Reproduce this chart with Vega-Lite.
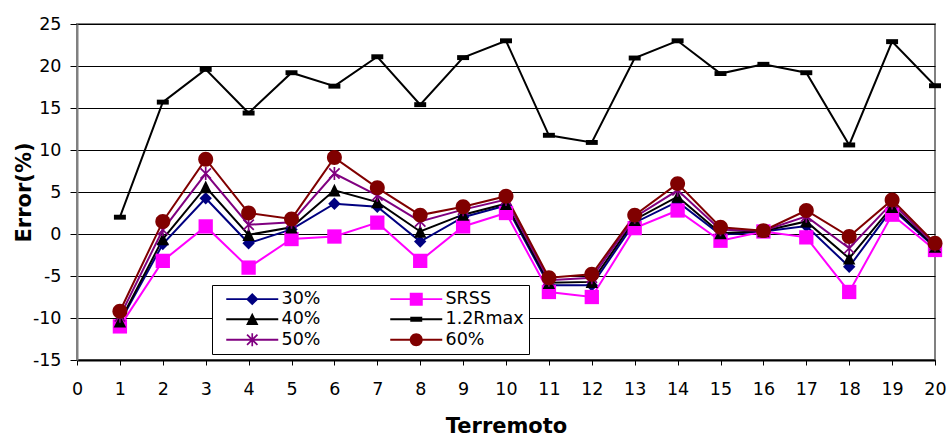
{
  "$schema": "https://vega.github.io/schema/vega-lite/v6.json",
  "width": 858,
  "height": 336,
  "autosize": {"type": "none"},
  "padding": {"left": 77, "top": 24, "right": 14, "bottom": 82},
  "background": "white",
  "config": {
    "font": "DejaVu Sans",
    "view": {"stroke": "#808080", "strokeWidth": 2},
    "axis": {"labelColor": "#000", "titleColor": "#000", "tickColor": "#000", "labelFont": "DejaVu Sans", "titleFont": "DejaVu Sans"},
    "point": {"filled": true, "opacity": 1, "size": 169, "strokeWidth": 0}
  },
  "data": {
    "values": [
      {"terremoto": 1, "serie": "30%", "error": -10.5},
      {"terremoto": 2, "serie": "30%", "error": -1.2},
      {"terremoto": 3, "serie": "30%", "error": 4.25},
      {"terremoto": 4, "serie": "30%", "error": -1.1},
      {"terremoto": 5, "serie": "30%", "error": 0.55},
      {"terremoto": 6, "serie": "30%", "error": 3.6},
      {"terremoto": 7, "serie": "30%", "error": 3.25},
      {"terremoto": 8, "serie": "30%", "error": -0.9},
      {"terremoto": 9, "serie": "30%", "error": 2.0},
      {"terremoto": 10, "serie": "30%", "error": 3.4},
      {"terremoto": 11, "serie": "30%", "error": -6.1},
      {"terremoto": 12, "serie": "30%", "error": -6.1},
      {"terremoto": 13, "serie": "30%", "error": 1.35},
      {"terremoto": 14, "serie": "30%", "error": 3.85},
      {"terremoto": 15, "serie": "30%", "error": -0.1},
      {"terremoto": 16, "serie": "30%", "error": 0.3},
      {"terremoto": 17, "serie": "30%", "error": 0.95},
      {"terremoto": 18, "serie": "30%", "error": -3.9},
      {"terremoto": 19, "serie": "30%", "error": 3.0},
      {"terremoto": 20, "serie": "30%", "error": -1.6},

      {"terremoto": 1, "serie": "SRSS", "error": -11.0},
      {"terremoto": 2, "serie": "SRSS", "error": -3.2},
      {"terremoto": 3, "serie": "SRSS", "error": 0.9},
      {"terremoto": 4, "serie": "SRSS", "error": -4.0},
      {"terremoto": 5, "serie": "SRSS", "error": -0.6},
      {"terremoto": 6, "serie": "SRSS", "error": -0.3},
      {"terremoto": 7, "serie": "SRSS", "error": 1.35},
      {"terremoto": 8, "serie": "SRSS", "error": -3.2},
      {"terremoto": 9, "serie": "SRSS", "error": 0.9},
      {"terremoto": 10, "serie": "SRSS", "error": 2.5},
      {"terremoto": 11, "serie": "SRSS", "error": -6.9},
      {"terremoto": 12, "serie": "SRSS", "error": -7.5},
      {"terremoto": 13, "serie": "SRSS", "error": 0.7},
      {"terremoto": 14, "serie": "SRSS", "error": 2.8},
      {"terremoto": 15, "serie": "SRSS", "error": -0.8},
      {"terremoto": 16, "serie": "SRSS", "error": 0.3},
      {"terremoto": 17, "serie": "SRSS", "error": -0.4},
      {"terremoto": 18, "serie": "SRSS", "error": -6.9},
      {"terremoto": 19, "serie": "SRSS", "error": 2.3},
      {"terremoto": 20, "serie": "SRSS", "error": -1.9},

      {"terremoto": 1, "serie": "40%", "error": -10.4},
      {"terremoto": 2, "serie": "40%", "error": -0.6},
      {"terremoto": 3, "serie": "40%", "error": 5.6},
      {"terremoto": 4, "serie": "40%", "error": -0.1},
      {"terremoto": 5, "serie": "40%", "error": 0.8},
      {"terremoto": 6, "serie": "40%", "error": 5.2},
      {"terremoto": 7, "serie": "40%", "error": 3.8},
      {"terremoto": 8, "serie": "40%", "error": 0.3},
      {"terremoto": 9, "serie": "40%", "error": 2.3},
      {"terremoto": 10, "serie": "40%", "error": 3.6},
      {"terremoto": 11, "serie": "40%", "error": -5.8},
      {"terremoto": 12, "serie": "40%", "error": -5.7},
      {"terremoto": 13, "serie": "40%", "error": 1.7},
      {"terremoto": 14, "serie": "40%", "error": 4.45},
      {"terremoto": 15, "serie": "40%", "error": 0.1},
      {"terremoto": 16, "serie": "40%", "error": 0.35},
      {"terremoto": 17, "serie": "40%", "error": 1.5},
      {"terremoto": 18, "serie": "40%", "error": -2.9},
      {"terremoto": 19, "serie": "40%", "error": 3.25},
      {"terremoto": 20, "serie": "40%", "error": -1.5},

      {"terremoto": 1, "serie": "1.2Rmax", "error": 2.0},
      {"terremoto": 2, "serie": "1.2Rmax", "error": 15.7},
      {"terremoto": 3, "serie": "1.2Rmax", "error": 19.6},
      {"terremoto": 4, "serie": "1.2Rmax", "error": 14.4},
      {"terremoto": 5, "serie": "1.2Rmax", "error": 19.2},
      {"terremoto": 6, "serie": "1.2Rmax", "error": 17.6},
      {"terremoto": 7, "serie": "1.2Rmax", "error": 21.1},
      {"terremoto": 8, "serie": "1.2Rmax", "error": 15.4},
      {"terremoto": 9, "serie": "1.2Rmax", "error": 21.0},
      {"terremoto": 10, "serie": "1.2Rmax", "error": 23.0},
      {"terremoto": 11, "serie": "1.2Rmax", "error": 11.75},
      {"terremoto": 12, "serie": "1.2Rmax", "error": 10.9},
      {"terremoto": 13, "serie": "1.2Rmax", "error": 20.95},
      {"terremoto": 14, "serie": "1.2Rmax", "error": 23.0},
      {"terremoto": 15, "serie": "1.2Rmax", "error": 19.1},
      {"terremoto": 16, "serie": "1.2Rmax", "error": 20.2},
      {"terremoto": 17, "serie": "1.2Rmax", "error": 19.2},
      {"terremoto": 18, "serie": "1.2Rmax", "error": 10.6},
      {"terremoto": 19, "serie": "1.2Rmax", "error": 22.9},
      {"terremoto": 20, "serie": "1.2Rmax", "error": 17.65},

      {"terremoto": 1, "serie": "50%", "error": -9.8},
      {"terremoto": 2, "serie": "50%", "error": 0.5},
      {"terremoto": 3, "serie": "50%", "error": 7.2},
      {"terremoto": 4, "serie": "50%", "error": 1.1},
      {"terremoto": 5, "serie": "50%", "error": 1.4},
      {"terremoto": 6, "serie": "50%", "error": 7.2},
      {"terremoto": 7, "serie": "50%", "error": 4.6},
      {"terremoto": 8, "serie": "50%", "error": 1.5},
      {"terremoto": 9, "serie": "50%", "error": 2.9},
      {"terremoto": 10, "serie": "50%", "error": 4.1},
      {"terremoto": 11, "serie": "50%", "error": -5.5},
      {"terremoto": 12, "serie": "50%", "error": -5.2},
      {"terremoto": 13, "serie": "50%", "error": 2.0},
      {"terremoto": 14, "serie": "50%", "error": 5.2},
      {"terremoto": 15, "serie": "50%", "error": 0.5},
      {"terremoto": 16, "serie": "50%", "error": 0.4},
      {"terremoto": 17, "serie": "50%", "error": 2.1},
      {"terremoto": 18, "serie": "50%", "error": -1.7},
      {"terremoto": 19, "serie": "50%", "error": 3.7},
      {"terremoto": 20, "serie": "50%", "error": -1.3},

      {"terremoto": 1, "serie": "60%", "error": -9.2},
      {"terremoto": 2, "serie": "60%", "error": 1.5},
      {"terremoto": 3, "serie": "60%", "error": 8.9},
      {"terremoto": 4, "serie": "60%", "error": 2.5},
      {"terremoto": 5, "serie": "60%", "error": 1.8},
      {"terremoto": 6, "serie": "60%", "error": 9.1},
      {"terremoto": 7, "serie": "60%", "error": 5.5},
      {"terremoto": 8, "serie": "60%", "error": 2.25},
      {"terremoto": 9, "serie": "60%", "error": 3.25},
      {"terremoto": 10, "serie": "60%", "error": 4.5},
      {"terremoto": 11, "serie": "60%", "error": -5.2},
      {"terremoto": 12, "serie": "60%", "error": -4.8},
      {"terremoto": 13, "serie": "60%", "error": 2.25},
      {"terremoto": 14, "serie": "60%", "error": 6.0},
      {"terremoto": 15, "serie": "60%", "error": 0.8},
      {"terremoto": 16, "serie": "60%", "error": 0.4},
      {"terremoto": 17, "serie": "60%", "error": 2.8},
      {"terremoto": 18, "serie": "60%", "error": -0.3},
      {"terremoto": 19, "serie": "60%", "error": 4.05},
      {"terremoto": 20, "serie": "60%", "error": -1.1}
    ]
  },
  "encoding": {
    "x": {
      "field": "terremoto",
      "type": "quantitative",
      "scale": {"domain": [0, 20], "nice": false, "zero": false},
      "axis": {
        "values": [0, 1, 2, 3, 4, 5, 6, 7, 8, 9, 10, 11, 12, 13, 14, 15, 16, 17, 18, 19, 20],
        "grid": false,
        "tickSize": 5,
        "domainColor": "#000",
        "domainWidth": 2,
        "labelFontSize": 17.5,
        "labelPadding": 15,
        "labelFlush": false,
        "title": "Terremoto",
        "titleFontSize": 21,
        "titleFontWeight": "bold",
        "titlePadding": 18
      }
    },
    "y": {
      "field": "error",
      "type": "quantitative",
      "scale": {"domain": [-15, 25], "nice": false, "zero": false},
      "axis": {
        "values": [-15, -10, -5, 0, 5, 10, 15, 20, 25],
        "labelExpr": "'' + datum.value",
        "grid": true,
        "gridColor": "#000",
        "gridWidth": 1,
        "tickSize": 7,
        "domainColor": "#808080",
        "domainWidth": 2,
        "labelFontSize": 17.5,
        "labelPadding": 9,
        "labelFlush": false,
        "title": "Error(%)",
        "titleFontSize": 21,
        "titleFontWeight": "bold",
        "titlePadding": -2
      }
    },
    "color": {
      "field": "serie",
      "type": "nominal",
      "scale": {
        "domain": ["30%", "SRSS", "40%", "1.2Rmax", "50%", "60%"],
        "range": ["#000080", "#FF00FF", "#000000", "#000000", "#800080", "#800000"]
      },
      "legend": {
        "orient": "none",
        "legendX": 135,
        "legendY": 261,
        "title": null,
        "columns": 2,
        "direction": "horizontal",
        "symbolSize": 169,
        "symbolOffset": 26.5,
        "symbolStrokeWidth": 0,
        "labelOffset": 20.5,
        "labelFont": "DejaVu Sans",
        "labelFontSize": 17.5,
        "labelColor": "#000",
        "labelLimit": 300,
        "padding": 5,
        "rowPadding": 1.5,
        "columnPadding": 60,
        "strokeColor": "#000",
        "fillColor": "#fff",
        "encode": {
          "symbols": {
            "update": {
              "shape": {
                "signal": "datum.value === '30%' ? 'M-4,-0.15H4V0.15H-4Z M-0.95,0L0,-0.95L0.95,0L0,0.95Z' : datum.value === 'SRSS' ? 'M-4,-0.15H4V0.15H-4Z M-1,-1H1V1H-1Z' : datum.value === '40%' ? 'M-4,-0.15H4V0.15H-4Z M0,-1L0.95,0.9L-0.95,0.9Z' : datum.value === '1.2Rmax' ? 'M-4,-0.15H4V0.15H-4Z M-0.92,-0.38H0.92V0.38H-0.92Z' : datum.value === '50%' ? 'M-4,-0.15H4V0.15H-4Z M-0.13,-1H0.13V1H-0.13Z M-0.708,-0.892L0.892,0.708L0.708,0.892L-0.892,-0.708Z M-0.892,0.708L0.708,-0.892L0.892,-0.708L-0.708,0.892Z' : 'M-4,-0.15H4V0.15H-4Z M-1,0A1,1 0 1,1 1,0A1,1 0 1,1 -1,0Z'"
              },
              "fill": {"scale": "color", "field": "value"},
              "stroke": {"value": "transparent"},
              "strokeWidth": {"value": 0},
              "size": {"value": 169},
              "opacity": {"value": 1}
            }
          }
        }
      }
    }
  },
  "layer": [
    {
      "mark": {"type": "line", "strokeWidth": 2}
    },
    {
      "transform": [{"filter": "datum.serie === '30%'"}],
      "mark": {"type": "point", "shape": "M-0.95,0L0,-0.95L0.95,0L0,0.95Z"}
    },
    {
      "transform": [{"filter": "datum.serie === 'SRSS'"}],
      "mark": {"type": "point", "shape": "M-1.1,-1.1H1.1V1.1H-1.1Z"}
    },
    {
      "transform": [{"filter": "datum.serie === '40%'"}],
      "mark": {"type": "point", "shape": "M0,-1L0.95,0.95L-0.95,0.95Z"}
    },
    {
      "transform": [{"filter": "datum.serie === '1.2Rmax'"}],
      "mark": {"type": "point", "shape": "M-0.92,-0.38H0.92V0.38H-0.92Z"}
    },
    {
      "transform": [{"filter": "datum.serie === '50%'"}],
      "mark": {"type": "point", "shape": "M-0.13,-1H0.13V1H-0.13Z M-0.708,-0.892L0.892,0.708L0.708,0.892L-0.892,-0.708Z M-0.892,0.708L0.708,-0.892L0.892,-0.708L-0.708,0.892Z"}
    },
    {
      "transform": [{"filter": "datum.serie === '60%'"}],
      "mark": {"type": "point", "shape": "M-1.15,0A1.15,1.15 0 1,1 1.15,0A1.15,1.15 0 1,1 -1.15,0Z"}
    }
  ]
}
